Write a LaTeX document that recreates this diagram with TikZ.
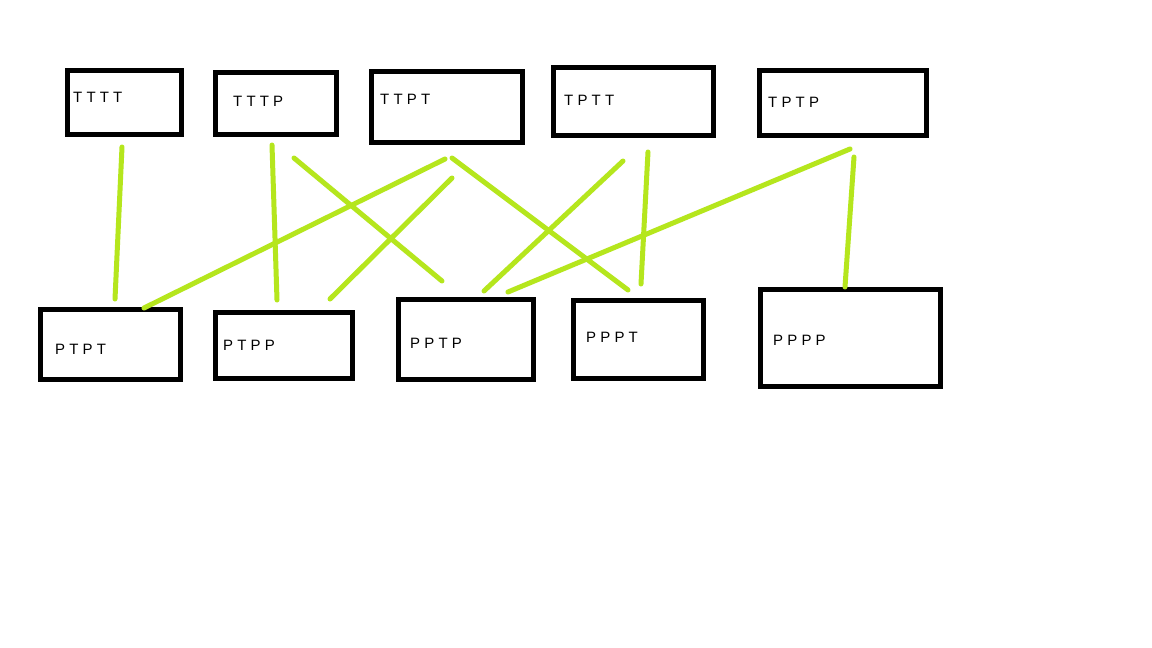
\documentclass[tikz,border=0pt]{standalone}
\usepackage{fontspec}
\setmainfont{Liberation Sans}
\definecolor{paintlime}{RGB}{181,230,29}
\begin{document}
\begin{tikzpicture}[x=1pt,y=-1pt,
  box/.style={draw=black, line width=5pt, rectangle, inner sep=0pt, fill=white},
  lbl/.style={anchor=west, inner sep=0pt, font=\fontsize{15}{17}\selectfont, text=black},
  link/.style={draw=paintlime, line width=5pt, line cap=round}]
\fill[white] (0,0) rectangle (1152,648);
\useasboundingbox (0,0) rectangle (1152,648);
% top row
\node[box, minimum width=114pt, minimum height=64pt] (tttt) at (124.5,102.5) {};
\node[box, minimum width=121pt, minimum height=62pt] (tttp) at (276,103.5) {};
\node[box, minimum width=151pt, minimum height=71pt] (ttpt) at (447,107) {};
\node[box, minimum width=160pt, minimum height=68pt] (tptt) at (633.5,101.5) {};
\node[box, minimum width=167pt, minimum height=65pt] (tptp) at (843,103) {};
% bottom row
\node[box, minimum width=140pt, minimum height=70pt] (ptpt) at (110.5,344.5) {};
\node[box, minimum width=137pt, minimum height=66pt] (ptpp) at (284,345.5) {};
\node[box, minimum width=135pt, minimum height=80pt] (pptp) at (466,339.5) {};
\node[box, minimum width=130pt, minimum height=78pt] (pppt) at (638.5,339.5) {};
\node[box, minimum width=180pt, minimum height=97pt] (pppp) at (850.5,338) {};
% labels
\node[lbl] (ltttt) at (73,97.5) {T T T T};
\node[lbl] (ltttp) at (233,101) {T T T P};
\node[lbl] (lttpt) at (380,99) {T T P T};
\node[lbl] (ltptt) at (564,100) {T P T T};
\node[lbl] (ltptp) at (768,102) {T P T P};
\node[lbl] (lptpt) at (55,349) {P T P T};
\node[lbl] (lptpp) at (223,345.5) {P T P P};
\node[lbl] (lpptp) at (410,343.5) {P P T P};
\node[lbl] (lpppt) at (586,337.5) {P P P T};
\node[lbl] (lpppp) at (773,340) {P P P P};
% connector end points
\coordinate (a1) at (122,147);  \coordinate (b1) at (115,299);
\coordinate (a2) at (272,145);  \coordinate (b2) at (277,300);
\coordinate (a3) at (294,158);  \coordinate (b3) at (442,281);
\coordinate (a4) at (445,159);  \coordinate (b4) at (144,308);
\coordinate (a5) at (452,178);  \coordinate (b5) at (330,299);
\coordinate (a6) at (452,158);  \coordinate (b6) at (628,290);
\coordinate (a7) at (623,161);  \coordinate (b7) at (484,291);
\coordinate (a8) at (648,152);  \coordinate (b8) at (641,284);
\coordinate (a9) at (850,149);  \coordinate (b9) at (508,292);
\coordinate (a10) at (854,157); \coordinate (b10) at (845,287);
\draw[link] (a1) -- (b1);
\draw[link] (a2) -- (b2);
\draw[link] (a3) -- (b3);
\draw[link] (a4) -- (b4);
\draw[link] (a5) -- (b5);
\draw[link] (a6) -- (b6);
\draw[link] (a7) -- (b7);
\draw[link] (a8) -- (b8);
\draw[link] (a9) -- (b9);
\draw[link] (a10) -- (b10);
\end{tikzpicture}
\end{document}
